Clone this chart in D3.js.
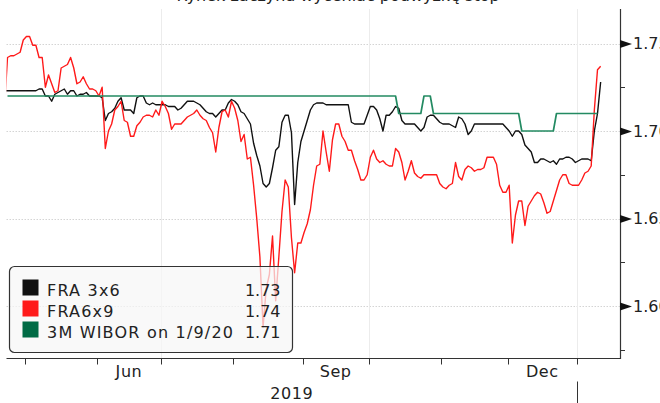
<!DOCTYPE html>
<html>
<head>
<meta charset="utf-8">
<script src="https://cdn.jsdelivr.net/npm/d3@7"></script>
<style>
  body { margin: 0; background: #fff; }
  svg { display: block; font-family: "DejaVu Sans", Verdana, sans-serif; }
</style>
</head>
<body>
<svg id="chart" width="660" height="403"></svg>
<script>
// series (date, rate)
const fra3x6 = [
  ["2019-04-22",1.723],["2019-04-23",1.723],["2019-05-06",1.723],["2019-05-07",1.724],["2019-05-08",1.724],
  ["2019-05-09",1.720],["2019-05-10",1.720],["2019-05-13",1.717],["2019-05-14",1.721],["2019-05-15",1.722],
  ["2019-05-16",1.723],["2019-05-17",1.724],["2019-05-20",1.721],["2019-05-21",1.723],["2019-05-22",1.723],
  ["2019-05-23",1.720],["2019-05-24",1.721],["2019-05-27",1.721],["2019-05-28",1.722],["2019-05-29",1.720],
  ["2019-05-30",1.720],["2019-05-31",1.720],["2019-06-03",1.720],["2019-06-04",1.719],["2019-06-05",1.706],
  ["2019-06-06",1.710],["2019-06-07",1.711],["2019-06-10",1.713],["2019-06-11",1.717],["2019-06-12",1.719],
  ["2019-06-13",1.712],["2019-06-14",1.712],["2019-06-17",1.712],["2019-06-18",1.710],["2019-06-19",1.719],
  ["2019-06-20",1.720],["2019-06-21",1.720],["2019-06-24",1.716],["2019-06-25",1.715],["2019-06-26",1.716],
  ["2019-06-27",1.715],["2019-06-28",1.715],["2019-07-01",1.715],["2019-07-02",1.715],["2019-07-03",1.714],
  ["2019-07-04",1.714],["2019-07-05",1.714],["2019-07-08",1.712],["2019-07-09",1.713],["2019-07-10",1.715],
  ["2019-07-11",1.717],["2019-07-12",1.717],["2019-07-15",1.717],["2019-07-16",1.716],["2019-07-17",1.715],
  ["2019-07-18",1.713],["2019-07-19",1.711],["2019-07-22",1.710],["2019-07-23",1.710],["2019-07-24",1.708],
  ["2019-07-25",1.710],["2019-07-26",1.712],["2019-07-29",1.712],["2019-07-30",1.716],["2019-07-31",1.718],
  ["2019-08-01",1.717],["2019-08-02",1.715],["2019-08-05",1.711],["2019-08-06",1.710],["2019-08-07",1.707],
  ["2019-08-08",1.704],["2019-08-09",1.693],["2019-08-12",1.686],["2019-08-13",1.680],["2019-08-14",1.670],
  ["2019-08-15",1.668],["2019-08-16",1.670],["2019-08-19",1.679],["2019-08-20",1.689],["2019-08-21",1.691],
  ["2019-08-22",1.705],["2019-08-23",1.709],["2019-08-26",1.709],["2019-08-27",1.699],["2019-08-28",1.658],
  ["2019-08-29",1.682],["2019-08-30",1.694],["2019-09-02",1.700],["2019-09-03",1.706],["2019-09-04",1.712],
  ["2019-09-05",1.715],["2019-09-06",1.716],["2019-09-09",1.716],["2019-09-10",1.716],["2019-09-11",1.715],
  ["2019-09-20",1.715],["2019-09-23",1.705],["2019-09-24",1.704],["2019-09-27",1.704],["2019-09-30",1.709],
  ["2019-10-01",1.714],["2019-10-02",1.714],["2019-10-03",1.712],["2019-10-04",1.707],["2019-10-07",1.700],
  ["2019-10-08",1.709],["2019-10-09",1.709],["2019-10-10",1.711],["2019-10-11",1.714],["2019-10-14",1.713],
  ["2019-10-15",1.706],["2019-10-16",1.704],["2019-10-21",1.704],["2019-10-22",1.702],["2019-10-23",1.700],
  ["2019-10-24",1.702],["2019-10-25",1.708],["2019-10-28",1.709],["2019-10-29",1.709],["2019-10-30",1.707],
  ["2019-10-31",1.705],["2019-11-01",1.704],["2019-11-05",1.704],["2019-11-06",1.703],["2019-11-07",1.702],
  ["2019-11-08",1.708],["2019-11-11",1.707],["2019-11-12",1.704],["2019-11-13",1.698],["2019-11-14",1.700],
  ["2019-11-15",1.704],["2019-11-28",1.704],["2019-11-29",1.702],["2019-12-02",1.700],["2019-12-03",1.697],
  ["2019-12-04",1.700],["2019-12-05",1.700],["2019-12-06",1.698],["2019-12-09",1.692],["2019-12-10",1.690],
  ["2019-12-11",1.688],["2019-12-12",1.682],["2019-12-13",1.682],["2019-12-16",1.684],["2019-12-17",1.684],
  ["2019-12-18",1.683],["2019-12-19",1.682],["2019-12-20",1.683],["2019-12-23",1.681],["2019-12-24",1.684],
  ["2019-12-25",1.684],["2019-12-26",1.685],["2019-12-27",1.685],["2019-12-30",1.684],["2019-12-31",1.682],
  ["2020-01-01",1.683],["2020-01-02",1.684],["2020-01-03",1.684],["2020-01-06",1.684],["2020-01-07",1.683],
  ["2020-01-08",1.700],["2020-01-09",1.710],["2020-01-10",1.728]
];

const fra6x9 = [
  ["2019-04-22",1.712],["2019-04-23",1.742],["2019-04-24",1.743],["2019-04-25",1.743],["2019-04-26",1.744],
  ["2019-04-29",1.745],["2019-04-30",1.752],["2019-05-01",1.754],["2019-05-02",1.754],["2019-05-03",1.749],
  ["2019-05-06",1.749],["2019-05-07",1.742],["2019-05-08",1.742],["2019-05-09",1.725],["2019-05-10",1.732],
  ["2019-05-13",1.727],["2019-05-14",1.722],["2019-05-15",1.723],["2019-05-16",1.736],["2019-05-17",1.737],
  ["2019-05-20",1.738],["2019-05-21",1.742],["2019-05-22",1.736],["2019-05-23",1.727],["2019-05-24",1.728],
  ["2019-05-27",1.731],["2019-05-28",1.727],["2019-05-29",1.724],["2019-05-30",1.724],["2019-05-31",1.723],
  ["2019-06-03",1.720],["2019-06-04",1.725],["2019-06-05",1.690],["2019-06-06",1.700],["2019-06-07",1.704],
  ["2019-06-10",1.712],["2019-06-11",1.714],["2019-06-12",1.717],["2019-06-13",1.706],["2019-06-14",1.705],
  ["2019-06-17",1.697],["2019-06-18",1.697],["2019-06-19",1.703],["2019-06-20",1.705],["2019-06-21",1.708],
  ["2019-06-24",1.709],["2019-06-25",1.709],["2019-06-26",1.708],["2019-06-27",1.712],["2019-06-28",1.709],
  ["2019-07-01",1.717],["2019-07-02",1.714],["2019-07-03",1.710],["2019-07-04",1.701],["2019-07-05",1.704],
  ["2019-07-08",1.704],["2019-07-09",1.704],["2019-07-10",1.706],["2019-07-11",1.708],["2019-07-12",1.709],
  ["2019-07-15",1.710],["2019-07-16",1.712],["2019-07-17",1.709],["2019-07-18",1.707],["2019-07-19",1.706],
  ["2019-07-22",1.702],["2019-07-23",1.699],["2019-07-24",1.688],["2019-07-25",1.702],["2019-07-26",1.711],
  ["2019-07-29",1.712],["2019-07-30",1.708],["2019-07-31",1.717],["2019-08-01",1.713],["2019-08-02",1.706],
  ["2019-08-05",1.694],["2019-08-06",1.698],["2019-08-07",1.684],["2019-08-08",1.685],["2019-08-09",1.669],
  ["2019-08-12",1.650],["2019-08-13",1.628],["2019-08-14",1.588],["2019-08-15",1.610],["2019-08-16",1.618],
  ["2019-08-19",1.640],["2019-08-20",1.603],["2019-08-21",1.628],["2019-08-22",1.654],["2019-08-23",1.672],
  ["2019-08-26",1.668],["2019-08-27",1.639],["2019-08-28",1.619],["2019-08-29",1.636],["2019-08-30",1.636],
  ["2019-09-02",1.642],["2019-09-03",1.647],["2019-09-04",1.655],["2019-09-05",1.669],["2019-09-06",1.680],
  ["2019-09-09",1.681],["2019-09-10",1.700],["2019-09-11",1.688],["2019-09-12",1.677],["2019-09-13",1.695],
  ["2019-09-16",1.704],["2019-09-17",1.704],["2019-09-18",1.697],["2019-09-19",1.694],["2019-09-20",1.689],
  ["2019-09-23",1.689],["2019-09-24",1.683],["2019-09-25",1.678],["2019-09-26",1.672],["2019-09-27",1.672],
  ["2019-09-30",1.675],["2019-10-01",1.685],["2019-10-02",1.689],["2019-10-03",1.684],["2019-10-04",1.682],
  ["2019-10-07",1.683],["2019-10-08",1.681],["2019-10-09",1.680],["2019-10-10",1.680],["2019-10-11",1.690],
  ["2019-10-14",1.688],["2019-10-15",1.682],["2019-10-16",1.672],["2019-10-17",1.677],["2019-10-18",1.683],
  ["2019-10-21",1.676],["2019-10-22",1.674],["2019-10-23",1.673],["2019-10-24",1.675],["2019-10-30",1.675],
  ["2019-10-31",1.670],["2019-11-01",1.668],["2019-11-04",1.667],["2019-11-05",1.669],["2019-11-06",1.670],
  ["2019-11-07",1.682],["2019-11-08",1.674],["2019-11-11",1.672],["2019-11-12",1.678],["2019-11-13",1.680],
  ["2019-11-14",1.679],["2019-11-15",1.677],["2019-11-18",1.678],["2019-11-19",1.678],["2019-11-20",1.679],
  ["2019-11-21",1.685],["2019-11-25",1.685],["2019-11-26",1.681],["2019-11-27",1.669],["2019-11-28",1.665],
  ["2019-11-29",1.665],["2019-12-02",1.669],["2019-12-03",1.636],["2019-12-04",1.652],["2019-12-05",1.660],
  ["2019-12-06",1.660],["2019-12-09",1.646],["2019-12-10",1.657],["2019-12-11",1.660],["2019-12-12",1.663],
  ["2019-12-13",1.665],["2019-12-16",1.664],["2019-12-17",1.659],["2019-12-18",1.653],["2019-12-19",1.654],
  ["2019-12-20",1.660],["2019-12-23",1.666],["2019-12-24",1.672],["2019-12-25",1.675],["2019-12-26",1.675],
  ["2019-12-27",1.670],["2019-12-30",1.669],["2020-01-01",1.669],["2020-01-02",1.672],["2020-01-03",1.676],
  ["2020-01-06",1.677],["2020-01-07",1.680],["2020-01-08",1.712],["2020-01-09",1.735],["2020-01-10",1.737]
];

const wibor3m = [
  ["2019-04-23",1.72],["2019-10-11",1.72],["2019-10-14",1.71],["2019-10-23",1.71],["2019-10-24",1.72],
  ["2019-10-28",1.72],["2019-10-29",1.71],["2019-12-05",1.71],["2019-12-06",1.70],["2019-12-20",1.70],
  ["2019-12-23",1.71],["2020-01-09",1.71]
];

const seriesNames = ["FRA 3x6", "FRA6x9", "3M WIBOR on 1/9/20"];
const lastValues = ["1.73", "1.74", "1.71"];
const seriesColors = ["#111111", "#ff1a1a", "#238a62"];
const yTicks = [1.60, 1.65, 1.70, 1.75];
const yMinorTicks = [1.575, 1.625, 1.675, 1.725];
const monthLabels = ["Jun", "Sep", "Dec"];
const yearLabel = "2019";
const titleText = "Rynek zaczyna wyceniać podwyżkę stóp";

// plot box
const pL = 6.5, pR = 620, pT = 9, pB = 358.5;

const parse = d3.timeParse("%Y-%m-%d");

// the time axis skips weekends: count trading days from 1 Jul 2019
const origin = new Date(2019, 6, 1);
function tradingIndex(d) {
  const days = d3.timeDay.count(origin, d);
  const weeks = Math.floor(days / 7);
  return weeks * 5 + Math.min(days - weeks * 7, 5);
}

const x = d3.scaleLinear()
  .domain([tradingIndex(new Date(2019, 3, 23)), tradingIndex(new Date(2020, 0, 9))])
  .range([7.5, 597.5]);
const y = d3.scaleLinear().domain([1.57, 1.77]).range([pB, pT - 0.5]);

const svg = d3.select("#chart");

// title, mostly cut off by the top of the picture
svg.append("text")
  .attr("x", 338).attr("y", 1)
  .attr("text-anchor", "middle")
  .attr("font-size", 16)
  .attr("fill", "#222")
  .text(titleText);

// month boundaries (half a trading day before the 1st trading day)
const months = d3.timeMonth.range(new Date(2019, 4, 1), new Date(2020, 1, 1));
const monthX = months.map(m => x(tradingIndex(m) - 0.5));

// grid
const grid = svg.append("g");
grid.selectAll(".hgrid").data(yTicks).enter().append("line")
  .attr("x1", pL).attr("x2", pR)
  .attr("y1", d => Math.round(y(d)) + 0.5).attr("y2", d => Math.round(y(d)) + 0.5)
  .attr("stroke", "#d4d4d4").attr("stroke-dasharray", "1.5,1.5");
grid.selectAll(".vgrid")
  .data(months.filter(m => [6, 9, 0].includes(m.getMonth())))
  .enter().append("line")
  .attr("x1", d => Math.round(x(tradingIndex(d) - 0.5)) + 0.5)
  .attr("x2", d => Math.round(x(tradingIndex(d) - 0.5)) + 0.5)
  .attr("y1", pT).attr("y2", pB)
  .attr("stroke", "#ececec");

// lines
svg.append("clipPath").attr("id", "plotclip")
  .append("rect").attr("x", pL).attr("y", pT).attr("width", pR - pL).attr("height", pB - pT);

const line = d3.line()
  .x(d => x(tradingIndex(parse(d[0]))))
  .y(d => y(d[1]));

const plot = svg.append("g").attr("clip-path", "url(#plotclip)");
[fra3x6, fra6x9, wibor3m].forEach((s, i) => {
  plot.append("path")
    .datum(s)
    .attr("d", line)
    .attr("fill", "none")
    .attr("stroke", seriesColors[i])
    .attr("stroke-width", i == 2 ? 1.7 : 1.4)
    .attr("stroke-linejoin", "round");
});

// bottom axis
const xAxis = svg.append("g").attr("transform", `translate(0,${pB})`);
xAxis.append("line").attr("x1", pL).attr("x2", pR)
  .attr("stroke", "#333").attr("stroke-width", 1.2);
xAxis.selectAll(".tick").data(monthX).enter().append("line")
  .attr("x1", d => Math.round(d) + 0.5).attr("x2", d => Math.round(d) + 0.5)
  .attr("y1", 0).attr("y2", 6)
  .attr("stroke", "#333");

const labelMonths = [5, 8, 11];
xAxis.selectAll(".mlab").data(labelMonths).enter().append("text")
  .attr("x", d => {
    const k = months.findIndex(m => m.getMonth() == d);
    return (monthX[k] + monthX[k + 1]) / 2;
  })
  .attr("y", 18)
  .attr("text-anchor", "middle")
  .attr("font-size", 16)
  .attr("letter-spacing", 0.6)
  .attr("fill", "#222")
  .text((d, i) => monthLabels[i]);

// year label centred on the 2019 part of the axis, separator at 1 Jan
const jan = monthX[monthX.length - 1];
xAxis.append("text")
  .attr("x", (pL + jan) / 2).attr("y", 40.5)
  .attr("text-anchor", "middle")
  .attr("font-size", 16)
  .attr("letter-spacing", 0.6)
  .attr("fill", "#222")
  .text(yearLabel);
xAxis.append("line")
  .attr("x1", Math.round(jan) + 0.5).attr("x2", Math.round(jan) + 0.5)
  .attr("y1", 23).attr("y2", 45)
  .attr("stroke", "#333");

// right axis with arrow ticks
const yAxis = svg.append("g").attr("transform", `translate(${pR},0)`);
yAxis.call(d3.axisRight(y).tickValues(yTicks).tickSize(0).tickPadding(13)
  .tickFormat(d3.format(".2f")));
yAxis.select(".domain").attr("stroke", "#333").attr("stroke-width", 1.2);
yAxis.selectAll(".tick text").attr("font-size", 16).attr("fill", "#222")
  .attr("font-family", "DejaVu Sans, Verdana, sans-serif");
yAxis.selectAll(".tick").append("path")
  .attr("d", "M0,-4L12,0L0,4Z").attr("fill", "#111");
yAxis.selectAll(".minor").data(yMinorTicks).enter().append("line")
  .attr("x1", 0).attr("x2", 5)
  .attr("y1", d => Math.round(y(d)) + 0.5).attr("y2", d => Math.round(y(d)) + 0.5)
  .attr("stroke", "#333");

// legend
const lg = svg.append("g").attr("transform", "translate(9.5,266.5)");
lg.append("rect")
  .attr("width", 283).attr("height", 86).attr("rx", 5)
  .attr("fill", "#f7f7f7").attr("fill-opacity", 0.72)
  .attr("stroke", "#333").attr("stroke-width", 1.2);
const rows = lg.selectAll(".row").data(seriesNames).enter().append("g")
  .attr("transform", (d, i) => `translate(0,${29 + i * 21})`);
rows.append("rect")
  .attr("x", 13).attr("y", -16).attr("width", 16).attr("height", 16)
  .attr("fill", (d, i) => i == 2 ? "#006b45" : seriesColors[i]);
rows.append("text")
  .attr("x", 37.5).attr("y", 0)
  .attr("font-size", 16).attr("letter-spacing", 1.2)
  .attr("fill", "#222")
  .text(d => d);
rows.append("text")
  .attr("x", 271).attr("y", 0)
  .attr("text-anchor", "end")
  .attr("font-size", 16)
  .attr("fill", "#222")
  .text((d, i) => lastValues[i]);
</script>
</body>
</html>
